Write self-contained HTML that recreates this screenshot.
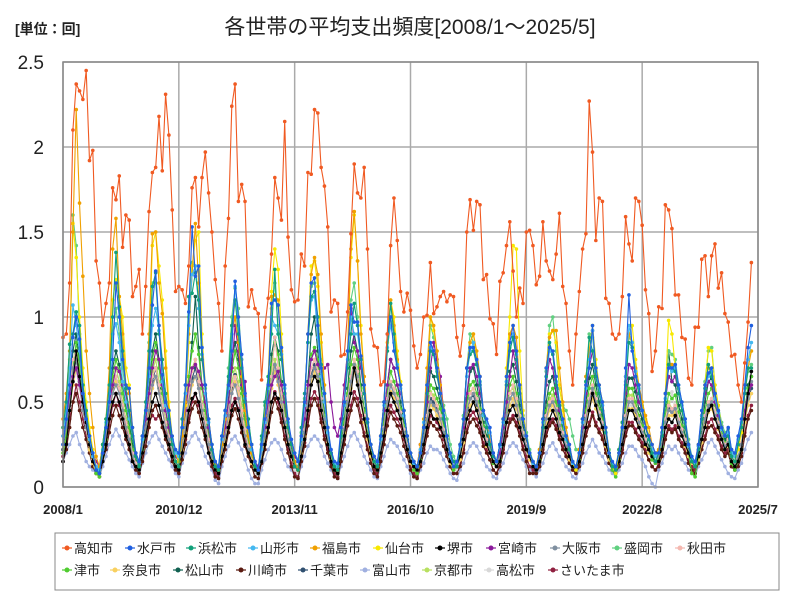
<!DOCTYPE html>
<html><head><meta charset="utf-8"><style>
body{margin:0;background:#fff;}
svg{display:block;font-family:"Liberation Sans","Noto Sans CJK JP",sans-serif;}
</style></head><body>
<svg id="chart" width="800" height="600" viewBox="0 0 800 600">
<rect x="0" y="0" width="800" height="600" fill="#fff"/>
<text x="15" y="34" font-size="14" font-weight="bold" fill="#222">[単位：回]</text>
<text x="410" y="34" font-size="21" text-anchor="middle" fill="#222">各世帯の平均支出頻度[2008/1～2025/5]</text>
<g id="grid"></g>
<g id="series"></g>
<rect x="63" y="62" width="695" height="425" fill="none" stroke="#888" stroke-width="1.5"/>
<g id="axes"></g>
<rect x="55" y="533" width="724" height="57" fill="#fff" stroke="#888"/>
<g id="legend"></g>
</svg>
<script>
const yTicks=[0,0.5,1,1.5,2,2.5];
const yTickLabels=["0","0.5","1","1.5","2","2.5"];
const xTickMonths=[0,35,70,105,140,175,210];
const xTickLabels=["2008/1","2010/12","2013/11","2016/10","2019/9","2022/8","2025/7"];
const seriesNames=["高知市","水戸市","浜松市","山形市","福島市","仙台市","堺市","宮崎市","大阪市","盛岡市","秋田市","津市","奈良市","松山市","川崎市","千葉市","富山市","京都市","高松市","さいたま市"];
const seriesColors=["#f05a22","#1f5fe0","#11a07a","#44b8f0","#f0a000","#f8e800","#000000","#8b1a9b","#8090a0","#60d080","#f4b8b0","#50cc30","#f8d060","#106050","#5a1a10","#305070","#a0b0e0","#b8e060","#d8d8d8","#902040"];
const kochi=[88,90,120,210,237,233,228,245,192,198,133,120,95,108,120,176,169,183,141,160,157,112,118,128,90,118,162,185,188,218,186,231,207,163,115,118,116,108,130,176,182,153,182,197,173,150,122,108,80,130,158,224,237,168,178,168,106,116,105,102,63,94,111,137,182,170,157,215,147,116,109,110,137,130,185,184,222,220,188,177,153,103,110,108,77,78,103,149,190,173,170,188,140,93,83,82,60,62,90,142,170,145,115,103,114,104,83,70,78,100,101,132,102,106,112,115,109,113,112,88,77,95,150,169,151,168,166,122,125,99,96,78,121,126,142,156,127,100,117,108,150,151,142,119,124,156,133,127,122,137,161,118,108,80,60,90,115,140,149,227,197,145,170,168,111,108,90,87,90,112,159,143,133,170,168,154,116,102,68,80,106,105,166,163,152,113,113,88,87,64,60,94,94,134,136,112,136,143,117,126,102,97,77,78,60,50,73,97,132];
const mito=[25,40,60,88,100,87,55,40,30,20,10,8,20,35,50,75,120,100,75,60,58,35,20,15,30,45,70,107,127,95,66,50,45,30,22,20,35,60,103,153,124,130,82,60,40,25,15,12,30,45,60,80,121,100,78,55,35,25,15,10,25,40,60,108,110,107,82,60,40,28,20,15,30,50,90,120,123,95,70,55,35,22,15,14,35,50,80,107,97,97,77,60,40,25,18,15,30,50,90,100,80,70,60,45,30,20,15,12,20,35,60,85,80,70,55,45,30,20,12,15,25,40,70,82,82,75,65,45,40,35,20,15,25,40,65,85,95,80,60,40,30,20,15,12,20,40,70,82,80,65,50,40,30,25,15,12,20,40,60,70,95,70,60,50,35,20,15,12,20,35,70,113,80,65,60,45,35,30,25,20,20,35,55,70,70,72,60,50,40,25,18,15,25,45,60,67,70,55,45,35,30,35,22,20,30,40,60,82,95];
const hamamatsu=[35,50,84,90,103,95,60,45,30,20,10,8,25,40,60,100,138,106,80,58,45,30,18,12,30,50,80,118,126,90,75,55,40,25,15,12,40,60,112,114,126,110,75,60,40,22,12,10,30,45,65,95,110,90,70,50,40,25,12,10,30,50,65,90,128,90,75,55,35,25,12,10,35,55,85,112,115,100,72,55,35,20,12,10,30,50,70,90,108,95,75,55,38,25,15,12,30,50,80,108,90,70,60,45,30,20,15,12,20,35,55,80,78,65,55,40,30,20,15,12,25,40,70,78,80,72,60,45,35,25,18,15,25,40,60,80,88,75,55,40,30,20,15,12,20,35,65,85,78,60,48,40,30,22,15,12,20,40,62,88,80,65,55,45,32,20,12,10,22,38,60,85,82,65,55,45,35,28,20,15,20,30,50,72,70,68,55,45,35,25,15,12,22,40,58,72,65,55,45,35,30,30,18,15,25,35,55,70,70];
const yamagata=[30,45,70,107,95,80,55,40,28,18,12,10,22,38,55,90,96,85,62,50,40,30,18,14,28,45,65,95,105,92,62,48,40,28,20,18,35,55,95,125,130,105,78,55,38,25,15,12,28,42,58,90,118,95,70,52,35,22,14,10,22,38,58,100,95,90,78,58,38,28,20,16,28,48,85,110,112,88,65,50,32,20,14,12,30,48,75,100,90,90,75,55,38,25,18,14,28,48,82,95,85,72,58,42,30,20,14,12,22,38,60,82,80,68,55,42,30,18,12,14,24,40,65,80,85,72,62,42,38,32,20,15,24,38,62,80,90,78,55,40,30,20,14,12,20,38,65,80,78,62,48,38,28,22,14,12,20,38,58,75,92,68,58,48,32,20,14,12,20,35,65,95,85,68,58,45,35,28,22,18,20,32,52,70,68,70,58,48,38,24,16,14,24,42,58,65,68,52,44,34,30,32,20,18,28,38,58,75,85];
const fukushima=[40,55,80,150,222,167,124,80,55,35,18,12,25,40,70,140,158,112,90,60,55,30,18,12,30,50,90,149,150,120,102,70,45,25,15,12,30,50,90,125,155,120,75,55,40,25,14,10,25,40,60,90,100,85,65,45,30,20,12,10,25,42,60,112,113,110,80,55,35,25,15,10,30,50,90,125,135,125,90,60,35,20,12,10,30,50,80,140,162,133,90,65,40,25,15,12,30,50,90,110,95,75,60,45,30,20,15,12,25,40,70,100,95,80,60,45,30,20,12,14,25,40,70,85,90,80,65,45,38,30,20,15,25,40,65,90,95,88,60,40,30,20,14,12,22,40,70,88,92,92,70,50,35,25,15,12,22,40,65,80,92,70,60,50,35,20,12,10,22,38,65,90,85,70,60,50,42,35,25,20,22,35,55,72,72,70,58,48,38,25,16,14,25,42,60,70,70,55,45,35,30,32,20,18,25,35,55,70,80];
const sendai=[35,50,75,155,135,100,70,50,35,22,12,10,25,40,60,110,122,112,100,70,60,35,20,15,30,45,80,142,150,130,110,80,50,30,20,15,30,48,85,130,145,150,90,60,40,25,14,10,25,40,60,95,108,100,70,50,35,25,14,10,25,42,65,115,140,128,90,60,40,25,15,10,30,50,90,130,133,118,85,60,35,20,12,10,30,50,80,135,160,133,95,65,40,25,15,12,30,50,85,110,100,80,62,45,30,20,15,12,20,35,60,100,92,80,55,45,30,20,12,14,25,40,70,85,90,75,62,45,38,30,20,15,25,40,70,100,142,140,80,45,30,20,14,12,22,40,70,90,92,85,60,45,30,22,14,10,22,40,65,80,95,75,60,50,35,20,12,8,20,35,60,90,95,75,60,50,40,30,22,18,20,32,55,98,90,70,58,45,35,25,16,14,25,42,60,82,80,60,48,35,30,32,18,15,22,32,55,75,80];
const sakai=[15,25,45,62,80,65,50,38,25,15,10,8,15,25,40,50,55,50,40,30,25,15,12,10,20,30,40,50,55,48,38,30,25,18,12,10,20,30,45,52,55,50,40,30,20,15,10,8,18,25,35,45,50,45,35,25,20,15,10,8,15,25,35,50,55,52,45,35,25,18,12,10,18,28,45,60,65,62,45,35,25,15,10,8,20,30,45,55,70,60,50,40,30,20,12,10,20,30,45,55,50,45,40,30,22,15,12,10,15,25,35,45,40,40,35,30,22,15,12,12,18,28,40,45,50,45,38,30,25,20,15,12,15,25,38,45,48,42,35,28,22,18,12,10,15,25,35,40,45,40,32,28,22,18,12,10,15,25,35,45,55,48,40,35,25,18,12,10,15,25,35,45,45,40,35,30,25,22,18,15,15,22,35,40,38,42,35,30,25,20,15,12,18,28,35,45,48,40,35,28,22,25,15,12,15,22,40,55,68];
const miyazaki=[30,40,55,65,70,60,50,40,30,20,15,12,25,35,50,60,70,68,60,55,42,30,20,15,30,40,55,70,80,75,60,45,35,25,18,15,30,45,60,70,72,68,60,50,35,22,15,12,25,35,50,70,95,80,60,62,35,25,15,12,25,35,50,60,65,68,60,50,35,25,18,15,30,40,60,75,80,72,68,70,72,50,35,30,40,60,80,105,85,80,70,55,40,25,18,15,30,45,60,75,70,60,55,45,30,20,15,12,25,35,50,70,85,75,65,45,30,20,15,14,25,35,55,70,72,65,55,45,35,28,18,15,20,35,50,65,80,70,55,40,30,20,14,12,20,35,60,75,70,55,45,40,30,20,14,12,20,35,55,70,80,65,55,45,32,20,14,12,20,35,55,72,70,60,50,45,38,30,22,18,20,32,50,65,62,65,55,45,35,25,16,14,22,40,55,62,60,50,42,35,30,32,20,18,25,35,45,55,60];
const osaka=[25,35,50,70,75,60,45,35,25,15,10,8,20,30,45,55,60,55,45,35,28,18,12,10,25,35,45,60,65,55,45,35,28,20,14,12,25,35,50,62,65,58,45,35,25,18,12,10,22,30,42,55,60,52,40,30,22,15,10,8,20,30,42,60,72,62,50,38,28,20,14,12,22,32,50,65,70,65,50,40,28,18,12,10,22,34,50,62,72,65,52,40,30,20,14,12,22,34,50,60,55,50,42,32,24,16,12,10,18,28,40,50,48,45,40,32,24,16,12,12,20,30,45,52,55,50,42,32,26,22,15,12,18,28,42,52,55,48,40,30,24,18,12,10,18,28,40,48,50,45,36,30,24,18,12,10,18,28,40,50,58,50,42,36,26,18,12,10,18,28,40,50,50,45,38,32,26,22,18,15,18,25,38,45,44,46,38,32,26,20,15,12,20,30,40,48,50,42,36,30,24,26,16,14,18,25,40,52,62];
const morioka=[30,45,70,160,142,90,60,45,30,20,12,10,25,40,60,90,105,90,70,55,45,30,18,12,30,50,85,120,120,95,75,55,40,25,15,12,35,55,100,132,130,110,78,58,40,22,12,10,30,45,70,100,117,105,75,55,40,25,12,10,28,48,65,105,120,95,78,55,35,25,12,10,32,52,85,118,120,100,75,55,35,20,12,10,30,50,72,110,120,100,75,55,38,25,15,12,30,50,80,100,90,72,60,45,30,20,15,12,22,38,60,95,88,72,58,48,40,25,18,14,25,42,70,90,85,72,62,45,38,30,20,15,25,40,62,82,88,75,58,42,32,22,15,12,22,40,68,95,100,80,58,48,45,40,30,22,22,40,62,90,88,70,58,48,35,22,14,12,22,38,62,88,85,68,58,48,38,30,22,18,22,32,55,80,78,75,60,50,40,28,18,14,24,42,62,80,82,60,48,38,32,34,22,18,25,35,55,68,72];
const akita=[25,35,55,75,80,65,50,38,25,16,10,8,20,30,45,60,65,58,48,38,30,20,14,10,25,35,48,65,70,60,48,38,30,22,15,12,25,38,55,68,75,62,48,38,28,18,12,10,22,32,45,60,65,58,45,34,24,16,10,8,20,30,45,65,88,70,55,40,30,20,14,12,22,34,52,70,75,68,52,40,28,18,12,10,22,35,52,65,75,68,55,42,30,20,14,12,22,35,52,62,58,52,44,34,25,16,12,10,18,28,42,55,52,48,42,34,25,16,12,12,20,30,45,55,58,52,44,34,28,22,15,12,18,28,42,55,60,52,42,32,25,18,12,10,18,28,42,50,52,46,38,32,25,18,12,10,18,28,42,52,60,52,44,38,28,18,12,10,18,28,42,52,52,46,40,34,28,22,18,15,18,26,40,48,46,48,40,34,28,20,15,12,20,30,42,50,52,44,38,30,25,28,16,14,18,26,42,55,60];
const tsu=[20,30,50,70,85,72,55,40,28,18,8,6,18,28,45,65,75,68,55,45,35,22,14,10,22,35,55,75,85,70,55,45,32,22,14,12,25,40,65,80,90,78,58,45,30,20,12,10,22,32,48,68,80,70,55,40,28,18,10,8,20,32,48,72,85,78,60,45,30,20,12,10,22,36,58,78,82,75,55,42,28,18,10,8,22,38,55,72,82,75,58,45,32,20,12,10,22,38,55,68,62,55,46,36,26,16,10,8,16,28,42,60,58,52,46,36,26,16,10,12,18,30,48,60,62,55,46,36,28,22,14,12,16,28,45,60,65,55,44,32,25,18,12,10,16,28,45,55,58,50,40,34,26,18,12,10,16,28,45,58,65,55,46,40,28,18,10,6,16,28,45,58,58,50,42,36,28,22,16,14,16,24,42,55,52,54,44,36,28,20,8,6,18,30,45,55,58,48,40,32,26,28,14,10,15,22,42,58,65];
const nara=[20,30,45,60,70,60,45,35,22,14,8,6,18,28,40,55,62,55,45,35,28,18,12,10,20,30,42,58,65,55,45,35,28,20,14,12,22,32,48,60,65,58,45,35,25,16,12,10,20,28,40,55,62,55,42,32,22,14,10,8,18,28,40,58,68,60,48,36,26,18,12,10,20,30,46,62,68,62,48,36,26,16,10,8,20,32,46,58,68,62,50,38,28,18,12,10,20,32,46,56,52,46,40,30,22,14,10,8,15,25,38,48,46,42,38,30,22,14,10,12,16,26,40,48,50,46,40,30,24,20,14,12,15,25,38,48,52,46,38,28,22,16,12,10,15,25,38,45,48,42,35,28,22,16,12,10,15,25,38,46,52,46,40,34,24,16,12,10,15,25,38,46,46,42,36,30,24,20,16,14,15,22,36,42,42,44,36,30,24,18,14,12,16,26,36,44,46,40,34,28,22,24,14,12,15,22,38,48,55];
const matsuyama=[25,38,55,80,90,75,55,40,28,18,10,8,20,32,50,70,80,72,60,48,38,25,15,12,25,38,58,80,90,75,58,45,35,25,15,12,28,42,65,85,112,82,60,45,32,20,12,10,24,35,52,75,85,75,58,42,30,18,10,8,22,35,52,78,88,80,62,46,32,22,14,10,24,38,62,90,100,80,58,44,30,18,10,8,24,40,58,80,90,80,60,46,32,20,12,10,24,40,60,75,70,60,50,38,28,18,12,10,18,30,48,68,65,58,50,38,28,18,12,12,20,32,52,68,70,60,50,38,30,24,15,12,18,30,50,68,72,62,48,36,28,20,12,10,18,30,50,62,65,55,44,36,28,20,12,10,18,30,50,64,72,60,50,42,30,20,12,10,18,30,50,64,64,56,46,40,30,24,18,15,18,26,48,80,62,60,48,40,30,22,15,12,20,32,50,62,64,52,44,36,28,30,16,14,18,25,45,60,65];
const kawasaki=[15,22,35,50,55,45,35,28,20,12,8,6,15,22,32,42,48,42,35,28,22,15,10,8,15,24,35,45,48,42,35,28,22,15,10,8,16,25,38,46,50,44,35,28,20,12,6,5,15,22,32,42,46,40,32,24,18,12,6,5,14,22,32,44,52,46,38,28,20,12,6,5,15,24,36,48,52,48,38,28,20,12,6,5,15,25,36,45,52,48,38,30,22,14,8,6,15,25,36,44,40,36,32,24,18,10,6,5,12,20,30,38,36,34,30,24,18,12,8,8,12,20,32,38,40,36,32,24,20,16,10,8,12,20,30,38,40,36,30,22,15,8,8,8,12,20,30,36,38,34,28,22,18,14,10,8,12,20,30,36,42,36,32,28,20,14,10,8,12,20,30,36,36,32,28,24,20,16,12,10,12,18,28,34,32,34,28,24,20,14,10,8,14,22,28,35,36,32,28,22,18,20,12,10,12,18,30,40,45];
const chiba=[22,32,48,65,75,62,48,36,24,16,10,8,18,28,42,58,65,58,48,38,30,20,14,10,22,32,45,62,70,58,48,38,30,22,14,12,24,35,50,64,70,60,48,38,28,18,12,10,20,30,42,58,66,58,45,34,24,16,10,8,18,30,42,62,72,64,50,38,28,18,12,10,20,32,48,66,72,66,50,38,28,18,10,8,20,34,48,62,72,66,52,40,30,20,12,10,20,34,48,60,55,50,42,32,24,16,10,8,16,26,40,52,50,46,40,32,24,16,10,12,18,28,42,52,54,48,42,32,26,20,14,12,16,26,40,52,55,48,40,30,24,18,12,10,16,26,40,48,50,45,36,30,24,18,12,10,16,26,40,50,56,48,42,36,26,18,12,10,16,26,40,50,50,44,38,32,26,22,16,14,16,24,38,46,44,46,38,32,26,20,14,12,18,28,38,46,48,42,36,30,24,26,14,12,16,24,40,52,58];
const toyama=[15,20,25,30,32,25,20,15,12,10,8,6,12,18,25,30,34,30,25,20,16,12,8,6,14,20,26,30,32,28,24,20,16,12,8,6,14,20,26,30,32,28,24,18,14,10,4,2,12,18,24,28,30,26,22,16,10,5,2,2,10,16,22,26,28,26,22,16,12,10,6,5,12,18,24,28,30,28,24,18,14,10,6,5,12,18,24,30,32,28,24,18,14,10,6,5,12,18,24,28,26,24,20,16,12,8,6,5,10,14,20,24,22,22,20,16,12,8,5,4,10,14,20,24,26,24,20,16,12,10,6,5,10,14,20,24,26,24,20,16,12,10,8,6,10,14,20,24,26,22,18,16,12,10,6,5,10,14,20,24,28,24,20,18,14,10,8,6,10,14,20,24,24,22,18,16,12,6,2,0,10,14,20,24,22,24,20,16,14,10,8,6,12,16,20,26,28,24,20,16,12,8,6,5,10,14,22,28,32];
const kyoto=[22,32,50,70,80,68,52,38,26,16,10,8,18,28,45,62,70,62,50,40,32,20,14,10,22,34,50,68,75,62,50,40,30,22,14,12,25,36,55,70,75,65,50,40,28,18,12,10,22,30,45,62,70,62,48,36,26,16,10,8,20,30,45,65,75,68,54,40,28,20,12,10,22,34,52,70,75,70,52,40,28,18,10,8,22,36,52,65,75,70,55,42,30,20,12,10,22,36,52,62,58,52,44,34,26,16,10,8,16,28,42,56,54,48,42,34,26,16,10,12,18,28,45,56,58,50,44,34,28,22,14,12,16,28,42,56,58,50,42,32,24,18,12,10,16,28,42,52,54,48,38,32,25,18,12,10,16,28,42,54,58,50,44,38,28,18,12,10,16,28,42,54,54,48,40,34,28,22,16,14,16,24,40,50,46,48,40,34,28,20,14,12,18,28,40,50,52,44,38,30,25,28,14,12,16,24,42,55,60];
const takamatsu=[20,30,45,60,68,58,45,34,22,14,8,6,16,26,40,55,60,55,45,36,28,18,12,10,20,30,42,58,65,55,45,36,28,20,12,10,22,32,48,60,65,58,45,36,26,16,10,8,20,28,40,55,62,55,42,32,22,14,8,6,18,28,40,58,66,60,48,36,26,18,10,8,20,30,46,62,66,60,48,36,26,16,10,8,20,32,46,58,66,60,48,38,28,18,12,10,20,32,46,56,52,46,40,30,22,14,10,8,15,25,38,50,48,44,38,30,22,14,10,10,16,26,40,50,52,46,40,30,24,20,14,12,15,25,38,50,52,46,38,28,22,16,12,10,15,25,38,46,48,42,35,28,22,16,12,10,15,25,38,48,52,46,40,34,24,16,12,10,15,25,38,48,48,42,36,30,24,20,16,14,15,22,36,45,56,44,36,30,24,18,14,12,16,26,36,46,48,40,34,28,22,24,14,12,15,22,38,50,55];
const saitama=[18,26,40,50,60,50,40,30,22,14,8,6,16,24,36,48,55,48,40,32,26,16,10,8,18,28,38,42,40,42,38,32,26,18,12,10,20,28,40,50,55,48,40,32,24,14,8,6,18,25,36,48,52,46,36,28,20,14,8,6,16,25,36,50,56,50,40,30,22,14,8,6,18,26,40,52,56,52,40,30,22,14,8,6,18,28,40,48,56,52,42,32,24,16,10,8,18,28,40,48,44,40,36,28,20,12,8,6,14,22,32,42,40,38,34,28,20,12,8,8,14,22,34,42,44,40,34,26,22,16,10,8,14,22,32,40,42,38,32,24,18,12,10,8,14,22,32,38,40,36,30,24,20,14,10,8,14,22,32,38,44,38,34,30,22,14,10,8,14,22,32,38,38,34,30,26,22,16,12,10,14,20,30,36,34,36,30,26,22,16,12,10,16,24,30,38,40,34,30,24,20,22,12,10,14,20,32,42,48];
const seriesValues=[kochi,mito,hamamatsu,yamagata,fukushima,sendai,sakai,miyazaki,osaka,morioka,akita,tsu,nara,matsuyama,kawasaki,chiba,toyama,kyoto,takamatsu,saitama];

const NS="http://www.w3.org/2000/svg";
const X0=63,X1=758,Y0=487,Y1=62;
function xScale(m){return X0+(X1-X0)*m/210;}
function yScale(v){return Y0-(Y0-Y1)*v/2.5;}
function mk(tag,attrs,parent){const e=document.createElementNS(NS,tag);for(const k in attrs)e.setAttribute(k,attrs[k]);parent.appendChild(e);return e;}
const grid=document.getElementById('grid'),axes=document.getElementById('axes'),sg=document.getElementById('series'),lg=document.getElementById('legend');
yTicks.forEach((t,i)=>{
  const y=yScale(t);
  const l=mk('line',{x1:X0,x2:X1,y1:y,y2:y,stroke:'#aaa','stroke-width':1.5},grid);
  
  
  const tx=mk('text',{x:44,y:y+7,'font-size':19,'text-anchor':'end',fill:'#222'},axes);
  tx.textContent=yTickLabels[i];
  
  
});
xTickMonths.forEach((m,i)=>{
  const x=xScale(m);
  const l=mk('line',{x1:x,x2:x,y1:Y1,y2:Y0,stroke:'#aaa','stroke-width':1.5},grid);
  
  
  const tx=mk('text',{x:x,y:514,'font-size':13,'font-weight':'bold','text-anchor':'middle',fill:'#222'},axes);
  tx.textContent=xTickLabels[i];
  
  
});
for(let s=seriesValues.length-1;s>=0;s--){
  const vals=seriesValues[s],col=seriesColors[s];
  const g=mk('g',{},sg);
  
  
  const pts=vals.map((v,i)=>xScale(i).toFixed(1)+','+yScale(v/100).toFixed(1)).join(' ');
  const pl=mk('polyline',{points:pts,fill:'none',stroke:col,'stroke-width':1.1},g);
  
  
  vals.forEach((v,i)=>{
    const c=mk('circle',{cx:xScale(i),cy:yScale(v/100),r:1.8,fill:col},g);
    
    
  });
}
const legX=[62,125,186,248,310,373,435,486,550,612,675,62,110,173,236,298,360,422,484,548];
seriesNames.forEach((n,i)=>{
  const x=legX[i],y=i<11?552:574;
  const g=mk('g',{},lg);
  
  
  mk('line',{x1:x,x2:x+10,y1:y-4,y2:y-4,stroke:seriesColors[i],'stroke-width':1.2},g);
  mk('circle',{cx:x+5,cy:y-4,r:2.5,fill:seriesColors[i]},g);
  const t=mk('text',{x:x+12,y:y+1,'font-size':13,fill:'#222'},g);
  t.textContent=n;
});
</script>
</body></html>
